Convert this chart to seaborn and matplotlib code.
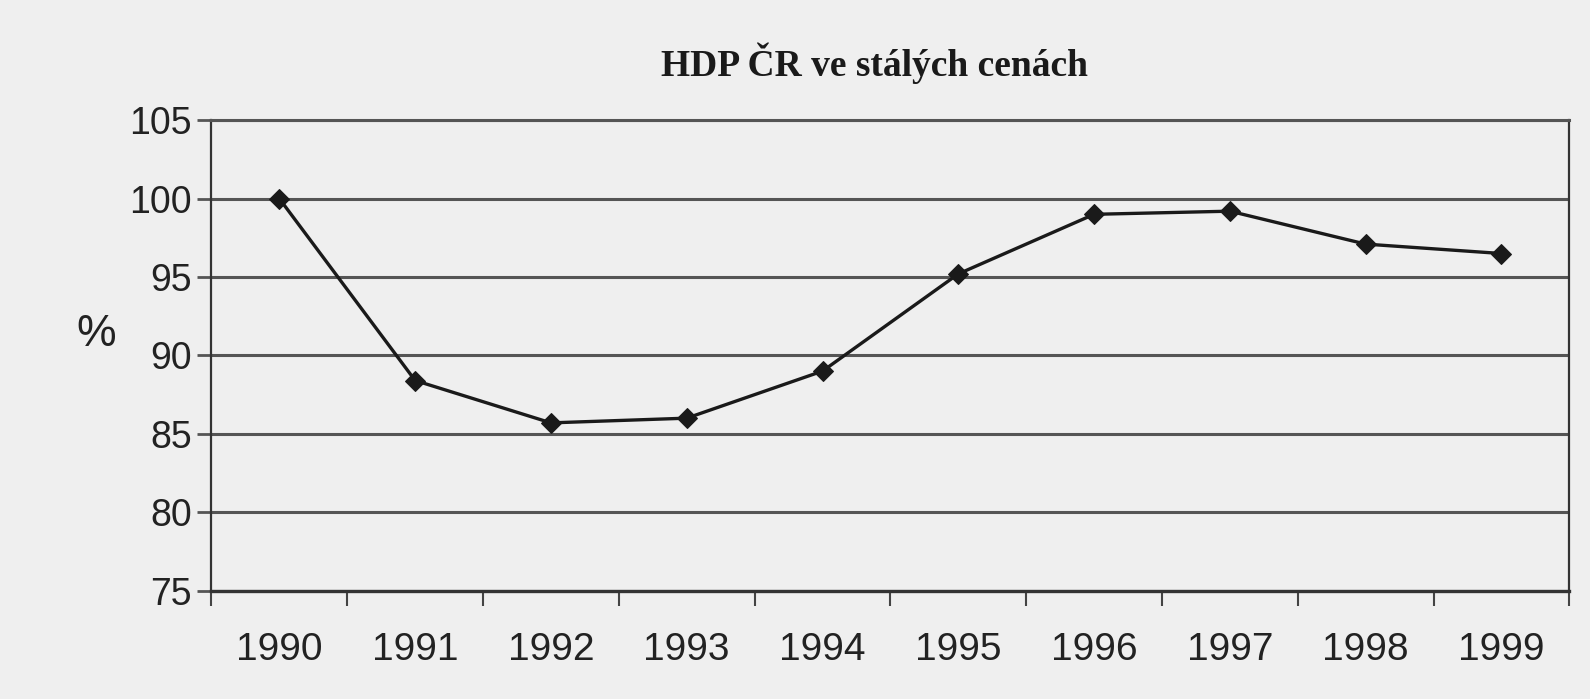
import numpy as np
import pandas as pd
import matplotlib
matplotlib.use("Agg")
import matplotlib.pyplot as plt
from matplotlib.ticker import FixedLocator
import seaborn as sns

# data
roky = ["1990", "1991", "1992", "1993", "1994", "1995", "1996", "1997", "1998", "1999"]
hdp = [100.0, 88.4, 85.7, 86.0, 89.0, 95.2, 99.0, 99.2, 97.1, 96.5]
y_ticks = [75, 80, 85, 90, 95, 100, 105]

df = pd.DataFrame({"rok": roky, "hdp": hdp})

sns.set_style("white")
plt.rcParams["font.family"] = ["Liberation Sans", "DejaVu Sans"]

bg = "#efefef"
fig = plt.figure(figsize=(15.9, 6.99), dpi=100, facecolor=bg)
ax = fig.add_axes([0.133, 0.155, 0.854, 0.673], facecolor=bg)

sns.lineplot(data=df, x="rok", y="hdp", ax=ax, color="#1a1a1a", linewidth=2.4,
             marker="D", markersize=10, markeredgecolor="#1a1a1a", markerfacecolor="#1a1a1a",
             sort=False)

ax.set_ylim(75, 105)
ax.set_xlim(-0.5, len(roky) - 0.5)
ax.set_yticks(y_ticks)
ax.set_yticklabels([str(v) for v in y_ticks], fontsize=27, color="#222222")
ax.set_xticks(range(len(roky)))
ax.set_xticklabels(roky, fontsize=28, color="#222222")
ax.xaxis.set_minor_locator(FixedLocator(np.arange(-0.5, len(roky), 1.0)))
ax.tick_params(axis="x", which="major", bottom=True, length=0, pad=30)
ax.tick_params(axis="x", which="minor", bottom=True, length=11, width=1.5, color="#444444")
ax.tick_params(axis="y", left=True, length=10, width=2, color="#555555", pad=4)

ax.grid(axis="y", color="#555555", linewidth=2.2)
ax.set_axisbelow(True)

for s in ["left", "right"]:
    ax.spines[s].set_color("#333333")
    ax.spines[s].set_linewidth(1.6)
ax.spines["top"].set_color("#555555")
ax.spines["top"].set_linewidth(2.2)
ax.spines["bottom"].set_color("#333333")
ax.spines["bottom"].set_linewidth(2.4)

ax.set_xlabel("")
ax.set_ylabel("%", fontsize=32, rotation=0, color="#222222")
ax.yaxis.set_label_coords(-0.085, 0.5)

fig.text(0.55, 0.91, "HDP ČR ve stálých cenách", ha="center", va="center",
         fontsize=27, fontweight="bold", family=["Liberation Serif", "DejaVu Serif"],
         color="#1a1a1a")

fig.savefig("out.png", dpi=100, facecolor=bg)
